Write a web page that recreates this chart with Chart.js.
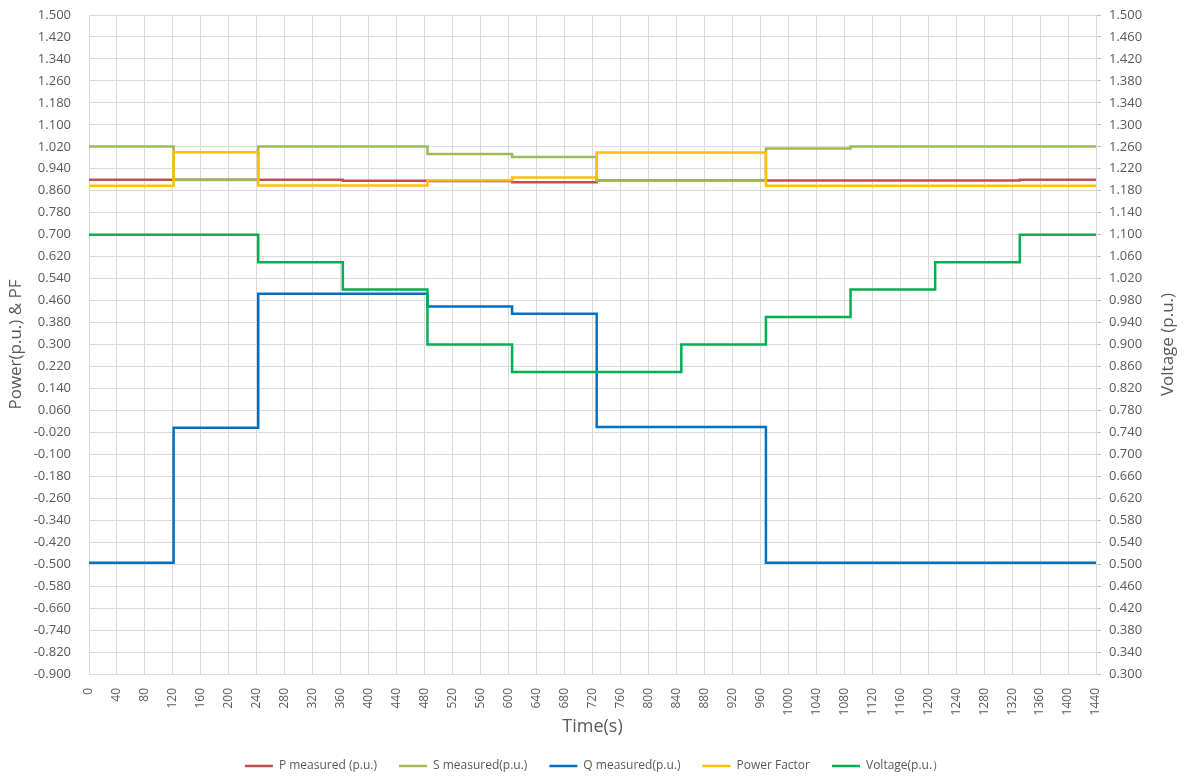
<!DOCTYPE html>
<html>
<head>
<meta charset="utf-8">
<title>Power, PF and Voltage</title>
<script src="https://cdn.jsdelivr.net/npm/chart.js@4.4.1/dist/chart.umd.min.js"></script>
<style>
  html, body { margin: 0; padding: 0; background: #fff; }
</style>
</head>
<body>
<canvas id="myChart" width="1189" height="776"></canvas>
<script>
// Instantes de cambio de escalón (s); el último valor de cada serie se mantiene hasta 1440 s
const stepTimes = [0, 121, 242, 363, 484, 605, 726, 847, 968, 1089, 1210, 1331, 1440];

// Valores por tramo
const pMeasured   = [0.900, 0.900, 0.900, 0.896, 0.895, 0.891, 0.897, 0.897, 0.897, 0.897, 0.897, 0.900];
const sMeasured   = [1.021, 0.899, 1.021, 1.021, 0.994, 0.983, 0.896, 0.896, 1.014, 1.021, 1.021, 1.021];
const qMeasured   = [-0.495, -0.003, 0.485, 0.485, 0.438, 0.412, 0.000, 0.000, -0.495, -0.495, -0.495, -0.495];
const powerFactor = [0.878, 1.000, 0.879, 0.879, 0.898, 0.908, 0.999, 0.999, 0.878, 0.878, 0.878, 0.878];
const voltage     = [1.10, 1.10, 1.05, 1.00, 0.90, 0.85, 0.85, 0.90, 0.95, 1.00, 1.05, 1.10];

// Etiquetas de los ejes
const leftTicks = Array.from({ length: 31 }, (_, i) => -0.9 + i * 0.08);
const rightTicks = Array.from({ length: 31 }, (_, i) => 0.3 + i * 0.04);

const textColor = '#595959';
const gridColor = '#d9d9d9';

// Convierte los tramos en puntos {x, y}
function toPoints(values) {
    return stepTimes.map((t, i) => ({ x: t, y: values[Math.min(i, values.length - 1)] }));
}

function serie(label, values, color, order, axis) {
    return {
        label: label,
        data: toPoints(values),
        borderColor: color,
        backgroundColor: color,
        borderWidth: 2.5,
        stepped: true,
        pointRadius: 0,
        fill: false,
        borderJoinStyle: 'miter',
        order: order,
        yAxisID: axis || 'y'
    };
}

// Ancho fijo del eje vertical sin el relleno extra arriba/abajo
function fixAxis(width) {
    return s => {
        s.width = width;
        s.paddingTop = 7;
        s.paddingBottom = 7;
    };
}

// Títulos de los ejes verticales
const axisTitles = {
    id: 'axisTitles',
    afterDraw(chart) {
        const { ctx, chartArea } = chart;
        const cy = (chartArea.top + chartArea.bottom) / 2;
        ctx.save();
        ctx.fillStyle = textColor;
        ctx.font = '17px "Open Sans"';
        ctx.textAlign = 'center';
        ctx.textBaseline = 'middle';
        [[16, 'Power(p.u.) & PF'], [1168, 'Voltage (p.u.)']].forEach(([x, t]) => {
            ctx.save();
            ctx.translate(x, cy);
            ctx.rotate(-Math.PI / 2);
            ctx.fillText(t, 0, 0);
            ctx.restore();
        });
        ctx.restore();
    }
};

function createChart() {
    const ctx = document.getElementById('myChart').getContext('2d');
    new Chart(ctx, {
        type: 'line',
        data: {
            datasets: [
                serie('P measured (p.u.)', pMeasured, '#C0504D', 5),
                serie('S measured(p.u.)', sMeasured, '#9BBB59', 4),
                serie('Q measured(p.u.)', qMeasured, '#0070C0', 3),
                serie('Power Factor', powerFactor, '#FFC000', 2),
                serie('Voltage(p.u.）', voltage, '#00B050', 1, 'y1')
            ]
        },
        options: {
            responsive: false,
            animation: false,
            layout: { padding: { top: 15, bottom: -6, left: 0, right: 0 } },
            plugins: {
                legend: {
                    position: 'bottom',
                    labels: {
                        usePointStyle: true,
                        pointStyle: 'line',
                        pointStyleWidth: 28,
                        padding: 22,
                        color: textColor,
                        font: { family: 'Open Sans', size: 12 },
                        sort: (a, b) => a.datasetIndex - b.datasetIndex
                    }
                },
                tooltip: { enabled: false }
            },
            scales: {
                x: {
                    type: 'linear',
                    min: 0,
                    max: 1440,
                    grid: { color: gridColor, drawTicks: false },
                    border: { color: gridColor },
                    ticks: {
                        stepSize: 40,
                        autoSkip: false,
                        minRotation: 90,
                        maxRotation: 90,
                        padding: 14,
                        color: textColor,
                        font: { family: 'Open Sans', size: 12 },
                        callback: v => String(v)
                    },
                    title: {
                        display: true,
                        text: 'Time(s)',
                        color: textColor,
                        font: { family: 'Open Sans', size: 18 },
                        padding: { top: 0, bottom: 0 }
                    },
                    afterFit: s => { s.height = 64; }
                },
                y: {
                    position: 'left',
                    min: -0.9,
                    max: 1.5,
                    grid: { color: gridColor, drawTicks: false },
                    border: { color: gridColor },
                    afterBuildTicks: s => { s.ticks = leftTicks.map(v => ({ value: v })); },
                    ticks: {
                        padding: 18,
                        color: textColor,
                        font: { family: 'Open Sans', size: 13 },
                        callback: v => v.toFixed(3)
                    },
                    afterFit: fixAxis(89)
                },
                y1: {
                    position: 'right',
                    min: 0.3,
                    max: 1.5,
                    grid: { drawOnChartArea: false, drawTicks: true, tickLength: 5, tickColor: '#bfbfbf' },
                    border: { color: gridColor },
                    afterBuildTicks: s => { s.ticks = rightTicks.map(v => ({ value: v })); },
                    ticks: {
                        padding: 8,
                        color: textColor,
                        font: { family: 'Open Sans', size: 13 },
                        callback: v => v.toFixed(3)
                    },
                    afterFit: fixAxis(93)
                }
            }
        },
        plugins: [axisTitles]
    });
}

document.addEventListener('DOMContentLoaded', () => {
    createChart();
});
</script>
</body>
</html>
